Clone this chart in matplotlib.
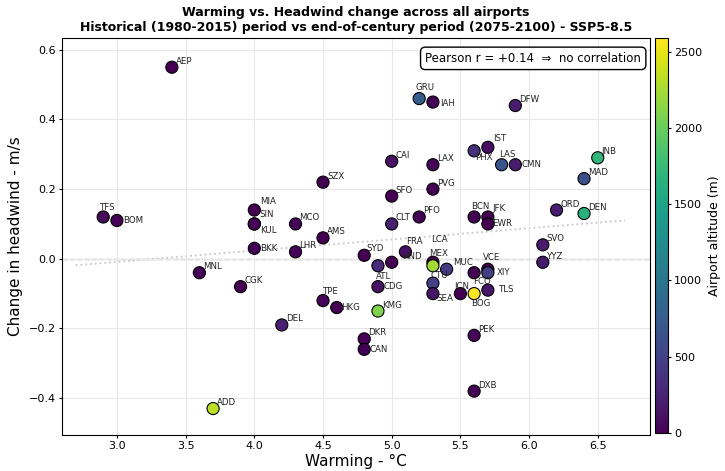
import matplotlib
matplotlib.use("Agg")
import matplotlib.pyplot as plt
import numpy as np

# airport codes, warming (°C), headwind change (m/s), elevation (m)
airports = ["AEP", "TFS", "BOM", "MIA", "SIN", "KUL", "BKK", "MNL", "CGK", "MCO",
            "LHR", "AMS", "SZX", "CAI", "SFO", "CLT", "SYD", "ATL", "HND", "FRA",
            "PFO", "PVG", "LAX", "IAH", "GRU", "LCA", "MEX", "MUC", "CTU", "CDG",
            "SEA", "TPE", "HKG", "KMG", "DEL", "DKR", "CAN", "ADD", "ICN", "FCO",
            "VCE", "XIY", "BOG", "TLS", "BCN", "JFK", "EWR", "PHX", "IST", "LAS",
            "CMN", "DFW", "JNB", "MAD", "ORD", "DEN", "SVO", "YYZ", "PEK", "DXB"]
warming = [3.40, 2.90, 3.00, 4.00, 4.00, 4.00, 4.00, 3.60, 3.90, 4.30,
           4.30, 4.50, 4.50, 5.00, 5.00, 5.00, 4.80, 4.90, 5.00, 5.10,
           5.20, 5.30, 5.30, 5.30, 5.20, 5.30, 5.30, 5.40, 5.30, 4.90,
           5.30, 4.50, 4.60, 4.90, 4.20, 4.80, 4.80, 3.70, 5.50, 5.60,
           5.70, 5.70, 5.60, 5.70, 5.60, 5.70, 5.70, 5.60, 5.70, 5.80,
           5.90, 5.90, 6.50, 6.40, 6.20, 6.40, 6.10, 6.10, 5.60, 5.60]
headwind = [0.55, 0.12, 0.11, 0.14, 0.10, 0.10, 0.03, -0.04, -0.08, 0.10,
            0.02, 0.06, 0.22, 0.28, 0.18, 0.10, 0.01, -0.02, -0.01, 0.02,
            0.12, 0.20, 0.27, 0.45, 0.46, -0.01, -0.02, -0.03, -0.07, -0.08,
            -0.10, -0.12, -0.14, -0.15, -0.19, -0.23, -0.26, -0.43, -0.10, -0.04,
            -0.03, -0.04, -0.10, -0.09, 0.12, 0.12, 0.10, 0.31, 0.32, 0.27,
            0.27, 0.44, 0.29, 0.23, 0.14, 0.13, 0.04, -0.01, -0.22, -0.38]
altitude = [6, 64, 11, 3, 7, 21, 2, 23, 10, 29,
            25, 0, 4, 116, 4, 228, 6, 313, 6, 111,
            12, 4, 38, 30, 750, 2, 2230, 448, 495, 119,
            132, 33, 9, 2103, 237, 27, 15, 2334, 7, 5,
            2, 479, 2590, 152, 4, 4, 5, 346, 99, 665,
            200, 185, 1694, 610, 205, 1655, 192, 173, 35, 19]

# label placement (pixels from the marker), default up-right
label_offsets = {
    "TFS": (-3, 9), "BOM": (6, 0), "MIA": (6, 9), "SIN": (5, 9), "KUL": (6, -7),
    "BKK": (6, 0), "IAH": (7, -1), "GRU": (-4, 11), "LCA": (-2, 23), "MEX": (-4, 12),
    "MUC": (6, 7), "CTU": (-2, 8), "ATL": (-2, -11), "CDG": (6, 0), "SEA": (3, -5),
    "ICN": (-6, 7), "FCO": (-1, -9), "VCE": (-5, 12), "XIY": (9, 0), "BOG": (-3, -10),
    "TLS": (11, 1), "BCN": (-3, 10), "JFK": (5, 8), "EWR": (4, 0), "PHX": (1, -7),
    "IST": (5, 9), "LAS": (-2, 10), "CMN": (6, 0), "HND": (10, 6), "FRA": (1, 10),
    "SYD": (2, 7), "CAN": (5, 0), "HKG": (4, 0), "TPE": (0, 9),
}

x = np.array(warming)
y = np.array(headwind)
r = np.corrcoef(x, y)[0, 1]
slope, intercept = np.polyfit(x, y, 1)

fig = plt.figure(figsize=(7.25, 4.71), dpi=100)
ax = fig.add_axes([0.0855, 0.0764, 0.811, 0.843])
cax = fig.add_axes([0.9034, 0.0807, 0.0179, 0.8386])

ax.grid(True, color="#e8e8e8", linewidth=0.8, zorder=0)
ax.axhline(0, color="#999999", linestyle="--", linewidth=1.0, zorder=1)

# least-squares trend over the spread of warming values
xx = np.linspace(2.7, 6.7, 50)
ax.plot(xx, slope * xx + intercept, color="#c8c8c8", linestyle=":", linewidth=1.3, zorder=1)

sc = ax.scatter(x, y, c=altitude, cmap="viridis", vmin=0, vmax=max(altitude),
                s=76, edgecolors="black", linewidths=0.8, zorder=3)

for code, xi, yi in zip(airports, warming, headwind):
    dx, dy = label_offsets.get(code, (4, 6))
    ax.annotate(code, (xi, yi), xytext=(dx, dy), textcoords="offset pixels",
                ha="left", va="center", fontsize=6.2, color="#222222", zorder=4)

ax.text(0.985, 0.965, f"Pearson r = {r:+.2f}  \u21d2  no correlation",
        transform=ax.transAxes, ha="right", va="top", fontsize=8.5,
        bbox=dict(boxstyle="round,pad=0.4", facecolor="white", edgecolor="black"),
        zorder=5)

ax.set_xlim(2.6, 6.88)
ax.set_ylim(-0.506, 0.634)
ax.set_xticks([3.0, 3.5, 4.0, 4.5, 5.0, 5.5, 6.0, 6.5])
ax.set_yticks([-0.4, -0.2, 0.0, 0.2, 0.4, 0.6])
ax.tick_params(labelsize=8, length=2.5, pad=2)
ax.set_xlabel("Warming - °C", fontsize=11, labelpad=2)
ax.set_ylabel("Change in headwind - m/s", fontsize=11, labelpad=4)
ax.set_title("Warming vs. Headwind change across all airports\n"
             "Historical (1980-2015) period vs end-of-century period (2075-2100) - SSP5-8.5",
             fontsize=9, fontweight="bold", pad=5)

cb = fig.colorbar(sc, cax=cax)
cb.set_label("Airport altitude (m)", fontsize=9)
cb.ax.tick_params(labelsize=8, length=2.5, pad=2)
cb.set_ticks([0, 500, 1000, 1500, 2000, 2500])

fig.savefig("out.png", dpi=100)
